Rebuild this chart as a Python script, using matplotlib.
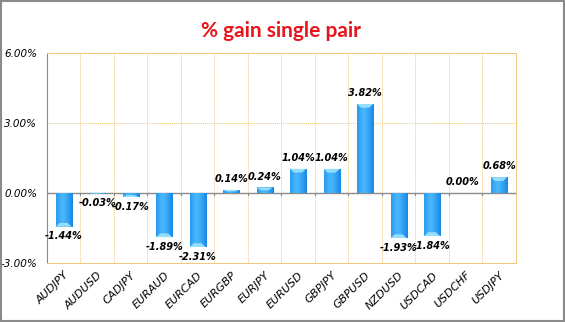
import matplotlib.pyplot as plt
import numpy as np
from matplotlib.patches import Rectangle, Polygon
from matplotlib.colors import LinearSegmentedColormap

pairs = ["AUDJPY", "AUDUSD", "CADJPY", "EURAUD", "EURCAD", "EURGBP", "EURJPY",
         "EURUSD", "GBPJPY", "GBPUSD", "NZDUSD", "USDCAD", "USDCHF", "USDJPY"]
gains = [-1.44, -0.03, -0.17, -1.89, -2.31, 0.14, 0.24,
         1.04, 1.04, 3.82, -1.93, -1.84, 0.00, 0.68]
y_ticks = [-3.0, 0.0, 3.0, 6.0]

fig = plt.figure(figsize=(5.65, 3.22), dpi=100)
ax = fig.add_axes([0.083, 0.183, 0.83, 0.652])

x = np.arange(len(pairs))
width = 0.48
ax.set_xlim(-0.5, len(pairs) - 0.5)
ax.set_ylim(-3, 6)

# horizontal gradient for the bevelled bars
grad = np.linspace(0, 1, 64)
shade = 1 - 0.55 * np.abs(grad - 0.4) ** 1.2
grad_img = np.outer(np.ones(2), shade)
blue = LinearSegmentedColormap.from_list("bar", ["#0a5fb0", "#1a8ae6", "#4ab8ff"])
grey = LinearSegmentedColormap.from_list("z", ["#d0d0d0", "#eeeeee"])

lbl_kw = dict(fontsize=7, fontweight="bold", style="italic", zorder=5)
for xi, val in zip(x, gains):
    h = val if abs(val) > 0.02 else 0.03
    lo, hi = min(0, h), max(0, h)
    left = xi - width / 2
    im = ax.imshow(grad_img, cmap=grey if val == 0 else blue, aspect="auto",
                   vmin=0.45, vmax=1, extent=(left, left + width, lo, hi),
                   zorder=3, interpolation="bicubic")
    clip = Rectangle((left, lo), width, hi - lo, transform=ax.transData,
                     facecolor="none", edgecolor="none")
    ax.add_patch(clip)
    im.set_clip_path(clip)

    # light bevel at the bar end
    if val != 0:
        cap = min(0.16, abs(h) * 0.5)
        end = hi if val > 0 else lo
        inner = end - cap if val > 0 else end + cap
        ax.add_patch(Polygon([(left, end), (left + width, end),
                              (left + width * 0.75, inner), (left + width * 0.25, inner)],
                             closed=True, facecolor="#9ee4ff", edgecolor="none",
                             alpha=0.9, zorder=4))

    label = f"{val:.2f}%"
    if val > 0:
        ax.text(xi, val + 0.25, label, ha="center", va="bottom", **lbl_kw)
    elif val < 0:
        ax.text(xi, val - 0.2, label, ha="center", va="top", **lbl_kw)
    else:
        ax.text(xi - 0.1, val + 0.25, label, ha="center", va="bottom", **lbl_kw)

# dotted grid
for b in np.arange(0.5, len(pairs) - 0.5, 1):
    ax.axvline(b, color="#f2c77a", lw=0.7, ls=(0, (1, 1)), zorder=1)
ax.axhline(3, color="#f2c77a", lw=0.7, ls=(0, (1, 1)), zorder=1)
ax.axhline(0, color="#8a8a8a", lw=1.0, zorder=2)
for b in np.arange(-0.5, len(pairs), 1):
    ax.plot([b, b], [0, -0.08], color="#8a8a8a", lw=0.8, zorder=2)

for side in ["top", "right", "bottom"]:
    ax.spines[side].set_color("#f2c77a")
    ax.spines[side].set_linestyle((0, (1, 1)))
    ax.spines[side].set_linewidth(0.7)
ax.spines["left"].set_color("#8a8a8a")

ax.set_yticks(y_ticks)
ax.set_yticklabels([f"{t:.2f}%" for t in y_ticks], fontsize=7.5, style="italic")
ax.tick_params(axis="y", length=0, pad=7)
ax.set_xticks(x)
ax.set_xticklabels(pairs, rotation=45, ha="right", rotation_mode="anchor",
                   fontsize=8, style="italic")
ax.tick_params(axis="x", length=0, pad=5)

fig.text(0.497, 0.905, "% gain single pair", ha="center", va="center",
         fontsize=15, fontweight="bold", color="#e8141c", family="Lato")

fig.patches.append(Rectangle((0.002, 0.003), 0.996, 0.994, transform=fig.transFigure,
                             fill=False, edgecolor="#8a8a8a", lw=1.5))

fig.savefig("out.png", dpi=100)
